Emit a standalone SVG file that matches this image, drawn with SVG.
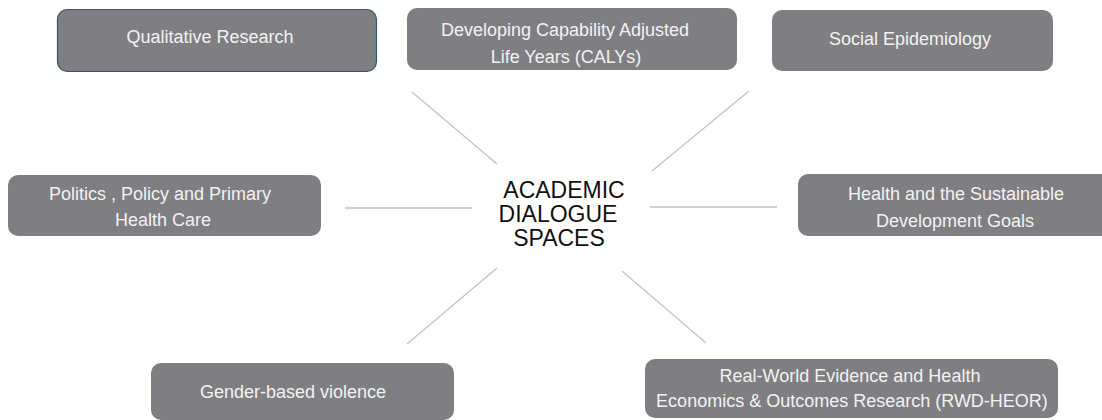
<svg xmlns="http://www.w3.org/2000/svg" width="1102" height="420" viewBox="0 0 1102 420">
<style>
.box{fill:#7f7f83;}
.bt{font-family:"Liberation Sans",Arial,sans-serif;font-size:18px;fill:#f2f2f2;text-anchor:middle;}
.ct{font-family:"Liberation Sans",Arial,sans-serif;font-size:23px;fill:#111;text-anchor:middle;}
.conn line{stroke:#c3c3c3;stroke-width:1.3;}
</style>
<rect width="1102" height="420" fill="#fff"/>
<g id="connectors" class="conn">
<line x1="412" y1="92" x2="497" y2="164"/>
<line x1="749" y1="91" x2="652" y2="171"/>
<line x1="345" y1="208" x2="472" y2="208"/>
<line x1="650" y1="207" x2="777" y2="207"/>
<line x1="497" y1="268" x2="407" y2="344"/>
<line x1="622" y1="271" x2="706" y2="343"/>
</g>
<g id="center">
<text class="ct" x="564" y="198">ACADEMIC</text>
<text class="ct" x="558" y="222">DIALOGUE</text>
<text class="ct" x="559" y="246">SPACES</text>
</g>
<g id="qualitative">
<rect class="box" x="57.5" y="9.5" width="319" height="62" rx="10" stroke="#2e5a6e" stroke-width="1.2"/>
<text class="bt" x="210" y="43">Qualitative Research</text>
</g>
<g id="calys">
<rect class="box" x="407" y="8" width="330" height="62" rx="10"/>
<text class="bt" x="565" y="36">Developing Capability Adjusted</text>
<text class="bt" x="566" y="63">Life Years (CALYs)</text>
</g>
<g id="social">
<rect class="box" x="772" y="10" width="281" height="61" rx="10"/>
<text class="bt" x="910" y="45">Social Epidemiology</text>
</g>
<g id="politics">
<rect class="box" x="8" y="175" width="313" height="61" rx="10"/>
<text class="bt" x="160" y="200">Politics , Policy and Primary</text>
<text class="bt" x="163" y="226">Health Care</text>
</g>
<g id="sdg">
<rect class="box" x="798" y="174" width="320" height="62" rx="10"/>
<text class="bt" x="956" y="200">Health and the Sustainable</text>
<text class="bt" x="955" y="227">Development Goals</text>
</g>
<g id="gender">
<rect class="box" x="151" y="363" width="303" height="57" rx="10"/>
<text class="bt" x="293" y="398">Gender-based violence</text>
</g>
<g id="rwd">
<rect class="box" x="645" y="359" width="413" height="59" rx="10"/>
<text class="bt" x="850" y="382">Real-World Evidence and Health</text>
<text class="bt" x="852" y="407">Economics &amp; Outcomes Research (RWD-HEOR)</text>
</g>
</svg>
